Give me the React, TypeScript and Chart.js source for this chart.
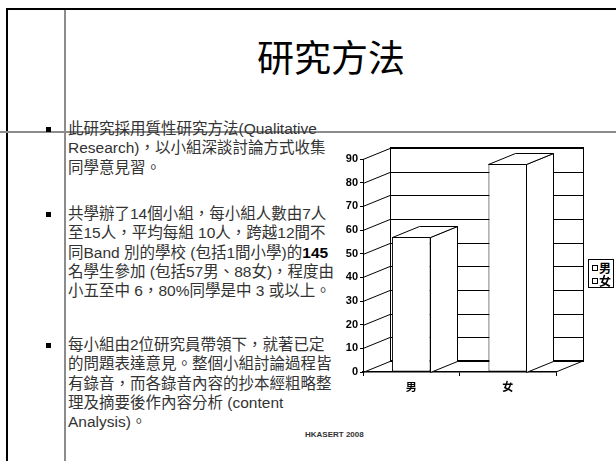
import React, { useEffect, useRef } from "react";
import { Chart, registerables } from "chart.js";

Chart.register(...registerables);

const categories = ["男", "女"];
const values = [57, 88];
const legendLabels = ["男", "女"];
const yMax = 90;
const yStep = 10;

const DX = 27;
const DY = -11;

const threeD = {
  id: "threeD",
  beforeDatasetsDraw(chart: any) {
    const { ctx, chartArea: a, scales } = chart;
    const y = scales.y;
    const line = (x1: number, y1: number, x2: number, y2: number, w = 1) => {
      ctx.lineWidth = w;
      ctx.beginPath();
      ctx.moveTo(x1, y1);
      ctx.lineTo(x2, y2);
      ctx.stroke();
    };
    ctx.save();
    ctx.strokeStyle = "#000";
    const yTop = y.getPixelForValue(yMax);
    const y0 = y.getPixelForValue(0);
    y.ticks.forEach((t: any) => {
      const py = Math.round(y.getPixelForValue(t.value)) + 0.5;
      if (t.value !== 0 && t.value !== yMax) {
        line(a.left + DX, py + DY, a.right + DX, py + DY, 1);
      }
      line(a.left, py, a.left + DX, py + DY, 1);
    });
    line(a.left + DX, yTop + DY, a.right + DX + 1, yTop + DY, 2);
    line(a.left + DX, y0 + DY, a.right + DX + 1, y0 + DY, 2);
    line(Math.round(a.left + DX) + 0.5, yTop + DY, Math.round(a.left + DX) + 0.5, y0 + DY, 1);
    line(Math.round(a.right + DX) + 0.5, yTop + DY, Math.round(a.right + DX) + 0.5, y0 + DY, 1);
    line(a.right, y0, a.right + DX, y0 + DY, 1);
    ctx.restore();
  },
  afterDatasetsDraw(chart: any) {
    const { ctx } = chart;
    const meta = chart.getDatasetMeta(0);
    ctx.save();
    ctx.strokeStyle = "#000";
    ctx.fillStyle = "#fff";
    ctx.lineWidth = 1;
    meta.data.forEach((bar: any) => {
      const p = bar.getProps(["x", "y", "base", "width"], true);
      const l = Math.round(p.x - p.width / 2) + 0.5;
      const r = Math.round(p.x + p.width / 2) - 0.5;
      const top = Math.round(p.y) + 0.5;
      const base = Math.round(p.base) + 0.5;
      ctx.beginPath();
      ctx.moveTo(r, top);
      ctx.lineTo(r + DX, top + DY);
      ctx.lineTo(r + DX, base + DY);
      ctx.lineTo(r, base);
      ctx.closePath();
      ctx.fill();
      ctx.stroke();
      ctx.beginPath();
      ctx.moveTo(l, top);
      ctx.lineTo(l + DX, top + DY);
      ctx.lineTo(r + DX, top + DY);
      ctx.lineTo(r, top);
      ctx.closePath();
      ctx.fill();
      ctx.stroke();
    });
    ctx.restore();
  },
};

const CHART_FONT = '"Liberation Sans", "Noto Sans CJK TC", sans-serif';

function ColumnChart() {
  const ref = useRef<HTMLCanvasElement | null>(null);
  useEffect(() => {
    if (!ref.current) return;
    const chart = new Chart(ref.current, {
      type: "bar",
      data: {
        labels: categories,
        datasets: [
          {
            label: "人數",
            data: values,
            backgroundColor: "#ffffff",
            borderColor: "#000000",
            borderWidth: 1,
            borderSkipped: false,
            categoryPercentage: 1,
            barPercentage: 0.4,
          },
        ],
      },
      options: {
        animation: false,
        responsive: true,
        maintainAspectRatio: false,
        devicePixelRatio: 1,
        layout: { padding: { top: 19, right: 60, left: 0, bottom: 0 } },
        plugins: {
          legend: { display: false },
          tooltip: { enabled: false },
          title: { display: false },
        },
        scales: {
          x: {
            offset: true,
            grid: {
              offset: true,
              drawOnChartArea: false,
              drawTicks: true,
              tickLength: 4,
              color: "#000",
            },
            border: { display: true, color: "#000", width: 1.5 },
            ticks: {
              color: "#000",
              padding: 5,
              maxRotation: 0,
              font: { family: CHART_FONT, size: 11, weight: "bold" },
            },
            afterFit: (s: any) => {
              s.height = 38;
            },
          },
          y: {
            min: 0,
            max: yMax,
            ticks: {
              stepSize: yStep,
              color: "#000",
              padding: 2,
              font: { family: CHART_FONT, size: 11, weight: "bold" },
            },
            grid: {
              drawOnChartArea: false,
              drawTicks: true,
              tickLength: 3,
              color: "#000",
            },
            border: { display: true, color: "#000", width: 1 },
            afterFit: (s: any) => {
              s.width = 33;
            },
          },
        },
      },
      plugins: [threeD],
    });
    return () => chart.destroy();
  }, []);
  return (
    <div style={{ position: "absolute", left: 330, top: 140, width: 286, height: 270 }}>
      <canvas ref={ref} />
    </div>
  );
}

const textFont = '"Liberation Sans", Arial, "Noto Sans CJK TC", sans-serif';

const para1 = [
  "此研究採用質性研究方法(Qualitative",
  "Research)，以小組深談討論方式收集",
  "同學意見習。",
];
const para3 = [
  "每小組由2位研究員帶領下，就著已定",
  "的問題表達意見。整個小組討論過程皆",
  "有錄音，而各錄音內容的抄本經粗略整",
  "理及摘要後作內容分析 (content",
  "Analysis)。",
];

const paraStyle: React.CSSProperties = {
  position: "absolute",
  left: 68,
  fontFamily: textFont,
  fontSize: 15.5,
  lineHeight: "19.3px",
  color: "#333",
  whiteSpace: "pre",
};

const Bullet = ({ top }: { top: number }) => (
  <div style={{ position: "absolute", left: 46, top, width: 5, height: 5, background: "#000" }} />
);

export default function App() {
  return (
    <div
      style={{
        position: "absolute",
        left: 0,
        top: 0,
        width: 616,
        height: 461,
        background: "#fff",
        overflow: "hidden",
      }}
    >
      <div style={{ position: "absolute", left: 6, top: 8, width: 610, height: 2, background: "#000" }} />
      <div style={{ position: "absolute", left: 6, top: 8, width: 2, height: 453, background: "#000" }} />
      <div style={{ position: "absolute", left: 64, top: 10, width: 2, height: 451, background: "#8c8c8c" }} />
      <div style={{ position: "absolute", left: 0, top: 131, width: 616, height: 2, background: "#8c8c8c" }} />

      <div
        style={{
          position: "absolute",
          left: 0,
          width: 662,
          top: 38,
          textAlign: "center",
          fontFamily: '"Noto Sans CJK TC", sans-serif',
          fontSize: 37,
          lineHeight: "37px",
          color: "#000",
        }}
      >
        研究方法
      </div>

      <Bullet top={127} />
      <Bullet top={212} />
      <Bullet top={343} />

      <div style={{ ...paraStyle, top: 119 }}>{para1.join("\n")}</div>
      <div style={{ ...paraStyle, top: 204 }}>
        {"共學辦了14個小組，每小組人數由7人\n至15人，平均每組 10人，跨越12間不\n同Band 別的學校 (包括1間小學)的"}
        <b style={{ color: "#000" }}>145</b>
        {"\n名學生參加 (包括57男、88女)，程度由\n小五至中 6，80%同學是中 3 或以上。"}
      </div>
      <div style={{ ...paraStyle, top: 335 }}>{para3.join("\n")}</div>

      <ColumnChart />

      <div
        style={{
          position: "absolute",
          left: 588,
          top: 259,
          width: 24,
          height: 26,
          border: "1px solid #000",
          background: "#fff",
          padding: "1px 0 0 0",
        }}
      >
        {legendLabels.map((l) => (
          <div key={l} style={{ position: "relative", height: 13, lineHeight: "13px" }}>
            <div
              style={{
                position: "absolute",
                left: 3,
                top: 4,
                width: 4,
                height: 4,
                border: "1px solid #000",
                background: "#fff",
              }}
            />
            <span
              style={{
                position: "absolute",
                left: 10,
                top: 0,
                fontFamily: '"Noto Sans CJK TC", sans-serif',
                fontWeight: 700,
                fontSize: 12,
                color: "#000",
              }}
            >
              {l}
            </span>
          </div>
        ))}
      </div>

      <div
        style={{
          position: "absolute",
          left: 305,
          top: 430,
          fontFamily: textFont,
          fontSize: 8,
          fontWeight: 700,
          lineHeight: "10px",
          color: "#333",
          whiteSpace: "pre",
        }}
      >
        HKASERT 2008
      </div>
    </div>
  );
}
